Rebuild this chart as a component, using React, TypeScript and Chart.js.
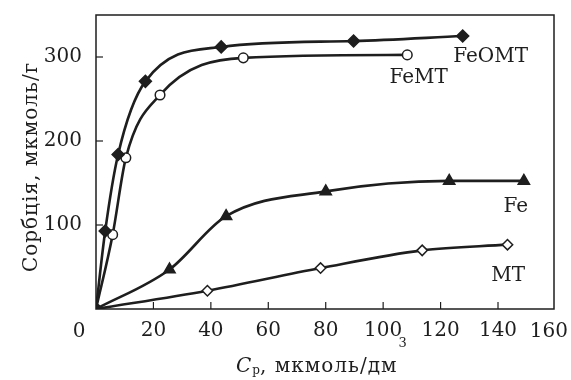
import React, { useEffect, useRef } from "react";
import { Chart, registerables } from "chart.js";

Chart.register(...registerables);

// ---- Data ----
const feomtX = [0, 3.2, 7.7, 17.2, 43.6, 89.7, 127.7];
const feomtY = [0, 92.8, 184, 271, 312, 319, 325];

const femtX = [0, 5.8, 10.4, 22.3, 51.3, 108.4];
const femtY = [0, 88.5, 180, 254.8, 299, 302.5];

const feX = [0, 25.6, 45.3, 80, 123, 149];
const feY = [0, 47, 110.5, 140, 152.5, 152.5];

const mtX = [0, 38.8, 78.2, 113.6, 143.3];
const mtY = [0, 21.7, 48.7, 69.8, 76.6];

const xTickValues = [20, 40, 60, 80, 100, 120, 140, 160];
const yTickValues = [100, 200, 300];

const seriesLabels = ["FeOMT", "FeMT", "Fe", "MT"];
const yTitle = "Сорбція, мкмоль/г";
const xTitleMain = "C";
const xTitleSub = "р";
const xTitleRest = ", мкмоль/дм";
const xTitleSup = "3";

const FONT = '"DejaVu Serif", "Liberation Serif", serif';
const FS = 20;
const INK = "#1e1e1e";

const pts = (xs: number[], ys: number[]) => xs.map((x, i) => ({ x, y: ys[i] }));

const zeroPad = (s: any) => {
  s.paddingTop = 0;
  s.paddingBottom = 0;
  s.paddingLeft = 0;
  s.paddingRight = 0;
};

const lastX = xTickValues[xTickValues.length - 1];

const decorPlugin = {
  id: "decor",
  afterDraw(chart: any) {
    const ctx = chart.ctx as CanvasRenderingContext2D;
    const xs = chart.scales.x;
    const ys = chart.scales.y;
    const area = chart.chartArea;
    ctx.save();
    ctx.strokeStyle = INK;
    ctx.lineWidth = 1.5;
    ctx.strokeRect(area.left, area.top, area.right - area.left, area.bottom - area.top);
    ctx.lineWidth = 1.2;
    // inward ticks
    xTickValues.forEach((v) => {
      const px = xs.getPixelForValue(v);
      if (px > area.left + 1 && px < area.right - 1) {
        ctx.beginPath();
        ctx.moveTo(px, area.bottom);
        ctx.lineTo(px, area.bottom - 7);
        ctx.stroke();
      }
    });
    yTickValues.forEach((v) => {
      const py = ys.getPixelForValue(v);
      ctx.beginPath();
      ctx.moveTo(area.left, py);
      ctx.lineTo(area.left + 7, py);
      ctx.stroke();
    });
    ctx.fillStyle = INK;
    // corner zero and last x label (kept inside the canvas)
    ctx.font = `${FS}px ${FONT}`;
    ctx.textAlign = "center";
    ctx.textBaseline = "alphabetic";
    ctx.fillText("0", 79, 337);
    ctx.textAlign = "right";
    ctx.fillText(String(lastX), 568, 337);
    // series labels
    ctx.fillText(seriesLabels[0], 528, 61.5);
    ctx.fillText(seriesLabels[2], 528, 212);
    ctx.fillText(seriesLabels[3], 525, 281);
    ctx.textAlign = "center";
    ctx.fillText(seriesLabels[1], 418.7, 83.3);
    // y title
    ctx.save();
    (ctx as any).letterSpacing = "1px";
    ctx.translate(37, 167);
    ctx.rotate(-Math.PI / 2);
    ctx.textAlign = "center";
    ctx.textBaseline = "alphabetic";
    ctx.fillText(yTitle, 0, 0);
    ctx.restore();
    // x title
    ctx.save();
    ctx.textAlign = "left";
    ctx.textBaseline = "alphabetic";
    let x = 236;
    const base = 372;
    ctx.font = `italic ${FS}px ${FONT}`;
    ctx.fillText(xTitleMain, x, base);
    x += ctx.measureText(xTitleMain).width + 1;
    ctx.font = `12px ${FONT}`;
    ctx.fillText(xTitleSub, x, base + 2);
    x += ctx.measureText(xTitleSub).width;
    (ctx as any).letterSpacing = "1px";
    ctx.font = `${FS}px ${FONT}`;
    ctx.fillText(xTitleRest, x, base);
    x += ctx.measureText(xTitleRest).width + 1;
    (ctx as any).letterSpacing = "0px";
    ctx.font = `13px ${FONT}`;
    ctx.fillText(xTitleSup, x, 347);
    ctx.restore();
    ctx.restore();
  },
};

export default function App() {
  const ref = useRef<HTMLCanvasElement | null>(null);
  useEffect(() => {
    if (!ref.current) return;
    const lineCommon = {
      borderColor: INK,
      borderWidth: 2.6,
      showLine: true,
      cubicInterpolationMode: "monotone" as const,
      pointBorderColor: INK,
      pointBorderWidth: 1.5,
    };
    const chart = new Chart(ref.current, {
      type: "scatter",
      data: {
        datasets: [
          {
            ...lineCommon,
            label: seriesLabels[0],
            data: pts(feomtX, feomtY),
            pointStyle: "rectRot",
            pointRadius: 6,
            pointBackgroundColor: INK,
          },
          {
            ...lineCommon,
            label: seriesLabels[1],
            data: pts(femtX, femtY),
            pointStyle: "circle",
            pointRadius: 4.8,
            pointBackgroundColor: "#ffffff",
          },
          {
            ...lineCommon,
            label: seriesLabels[2],
            data: pts(feX, feY),
            pointStyle: "triangle",
            pointRadius: 6.5,
            pointBackgroundColor: INK,
          },
          {
            ...lineCommon,
            label: seriesLabels[3],
            data: pts(mtX, mtY),
            pointStyle: "rectRot",
            pointRadius: 5.2,
            pointBackgroundColor: "#ffffff",
          },
        ],
      },
      options: {
        animation: false,
        responsive: false,
        maintainAspectRatio: false,
        layout: { padding: { left: 0, top: 15, right: 17, bottom: 0 } },
        plugins: {
          legend: { display: false },
          tooltip: { enabled: false },
          title: { display: false },
        },
        scales: {
          x: {
            type: "linear",
            min: 0,
            max: 159.5,
            afterFit: (s: any) => {
              s.height = 71;
              zeroPad(s);
            },
            afterBuildTicks: (s: any) => {
              s.ticks = xTickValues.map((v) => ({ value: v }));
            },
            grid: { display: false, drawTicks: false },
            border: { display: false },
            ticks: {
              color: INK,
              font: { family: FONT, size: FS },
              padding: 10,
              maxRotation: 0,
              autoSkip: false,
              callback: (v: any) => (v === lastX ? "" : String(v)),
            },
          },
          y: {
            type: "linear",
            min: 0,
            max: 350,
            afterFit: (s: any) => {
              s.width = 96;
              zeroPad(s);
            },
            afterBuildTicks: (s: any) => {
              s.ticks = yTickValues.map((v) => ({ value: v }));
            },
            grid: { display: false, drawTicks: false },
            border: { display: false },
            ticks: {
              color: INK,
              font: { family: FONT, size: FS },
              padding: 14,
              autoSkip: false,
            },
          },
        },
      },
      plugins: [decorPlugin],
    });
    return () => chart.destroy();
  }, []);
  return (
    <div style={{ position: "fixed", left: 0, top: 0, width: 571, height: 380, background: "#fff" }}>
      <canvas ref={ref} width={571} height={380} style={{ width: 571, height: 380, display: "block" }} />
    </div>
  );
}
